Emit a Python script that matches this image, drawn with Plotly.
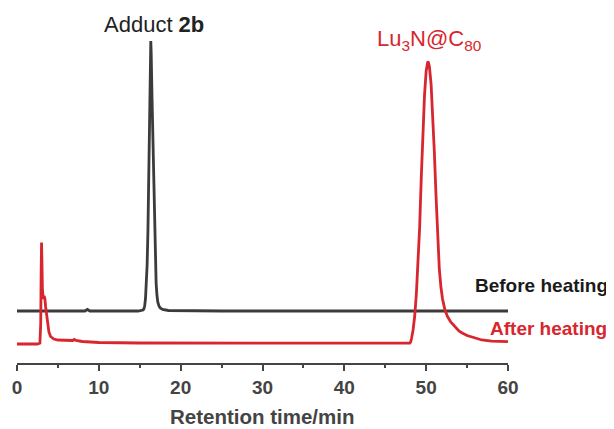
import plotly.graph_objects as go

# Retention time (min) and detector signal (arbitrary units, offset traces)
before_time = [0.0, 5.0, 8.3, 8.6, 8.9, 14.8, 15.2, 15.4, 15.5, 15.6, 15.7, 15.8, 15.9,
               16.0, 16.1, 16.2, 16.3, 16.35, 16.4, 16.5, 16.6, 16.7, 16.8, 16.9,
               17.0, 17.1, 17.2, 17.35, 17.5, 17.8, 18.5, 25.0, 35.0, 45.0, 55.0, 60.0]
before_signal = [52, 52, 52, 53.5, 52, 52, 52.3, 53, 54, 57, 64, 77, 98,
                 132, 176, 226, 274, 322, 309, 265, 222, 176, 132, 100,
                 80, 68, 61, 57, 55, 53.5, 52.5, 52, 52, 52, 52, 52]

after_time = [0.0, 2.5, 2.8, 2.9, 2.95, 3.0, 3.05, 3.1, 3.2, 3.3, 3.4, 3.5, 3.7, 3.9,
              4.1, 4.5, 5.0, 6.0, 6.8, 7.0, 7.2, 8.0, 10.0, 15.0, 20.0, 30.0, 40.0,
              47.5, 48.0, 48.1, 48.2, 48.4, 48.6, 48.8, 49.0, 49.2, 49.4, 49.6, 49.8,
              50.0, 50.1, 50.2, 50.3, 50.4, 50.6, 50.8, 51.0, 51.2, 51.4, 51.6, 51.8,
              52.0, 52.3, 52.6, 53.0, 53.5, 54.0, 54.4, 55.0, 56.0, 56.8, 58.0, 60.0]
after_signal = [19, 19, 20, 40, 90, 120.5, 100, 75, 64, 67, 65, 56, 40, 31,
                26.5, 24, 23, 22.5, 22.5, 23.5, 22.5, 21.5, 20.5, 20, 19.8, 19.8, 19.8,
                19.8, 20, 21, 24, 33, 47, 69, 96, 135, 185, 232, 268,
                292, 299, 301.5, 300, 296, 279, 248, 211, 168, 122, 95, 76,
                64, 53, 46.5, 41, 36, 32, 30, 27.5, 25, 23, 21.8, 21.3]

x_ticks = [0, 10, 20, 30, 40, 50, 60]
peak_labels = ["Adduct <b>2b</b>", "Lu<sub>3</sub>N@C<sub>80</sub>"]
trace_labels = ["Before heating", "After heating"]

RED = "#d7262e"
DARK = "#3b3b3b"
FONT = "Liberation Sans, Arial, sans-serif"

# page body has an 8px margin; compensate so the plot sits where the reference has it
OFF = 8
L, T, PW, PH = 17, 33, 491, 330


def px(xpix):
    return (xpix - L) / PW


def py(ypix):
    return (T + PH - ypix) / PH


fig = go.Figure()
fig.add_trace(go.Scatter(x=before_time, y=before_signal, mode="lines",
                         line=dict(color=DARK, width=2.8), hoverinfo="skip"))
fig.add_trace(go.Scatter(x=after_time, y=after_signal, mode="lines",
                         line=dict(color=RED, width=2.8), hoverinfo="skip"))

fig.update_layout(
    width=614 - OFF, height=429 - OFF,
    autosize=False,
    margin=dict(l=L - OFF, r=614 - L - PW, t=T - OFF, b=429 - T - PH, pad=0, autoexpand=False),
    paper_bgcolor="white", plot_bgcolor="white",
    showlegend=False,
    font=dict(family=FONT),
    xaxis=dict(range=[0, 60], tickvals=x_ticks, ticktext=[str(v) for v in x_ticks],
               automargin=False,
               showgrid=False, zeroline=False, showline=True, linecolor="#444",
               linewidth=2, ticks="outside", ticklen=6, tickwidth=2, tickcolor="#444",
               tickfont=dict(size=19, color="#444", family=FONT, weight="bold"),
               minor=dict(ticks="outside", ticklen=3, tickwidth=2, tickcolor="#444", dtick=5, showgrid=False)),
    yaxis=dict(range=[0, 330], visible=False, showgrid=False, zeroline=False, automargin=False),
)

annotations = [
    dict(text="<b>Retention time/min</b>", x=0.5, y=py(416),
         font=dict(size=20.5, color="#444"), xanchor="center"),
    dict(text=peak_labels[0], x=px(153.5), y=py(24.5),
         font=dict(size=22, color="#222"), xanchor="center"),
    dict(text=peak_labels[1], x=px(429), y=py(40),
         font=dict(size=22, color=RED), xanchor="center"),
    dict(text="<b>" + trace_labels[0] + "</b>", x=px(610), y=py(285),
         font=dict(size=19, color="#1a1a1a"), xanchor="right"),
    dict(text="<b>" + trace_labels[1] + "</b>", x=px(609), y=py(328),
         font=dict(size=19, color=RED), xanchor="right"),
]
for a in annotations:
    a.update(xref="paper", yref="paper", yanchor="middle", showarrow=False)
fig.update_layout(annotations=annotations)

fig.write_html("out.html")
